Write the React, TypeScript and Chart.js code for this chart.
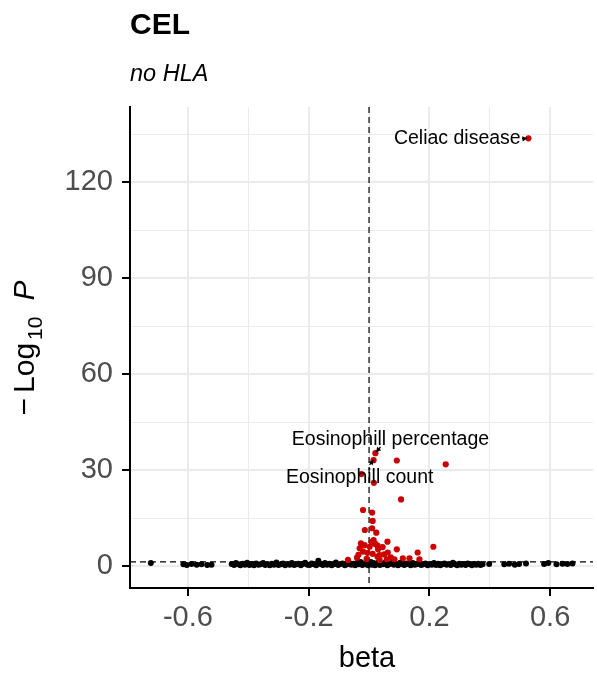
import React, { useEffect, useRef } from 'react';
import { Chart, registerables } from 'chart.js';

Chart.register(...registerables);

// ---------- text ----------
const titleText = 'CEL';
const subtitleText = 'no HLA';
const xAxisTitle = 'beta';

// ---------- axes ----------
const xMajorTicks = [-0.6, -0.2, 0.2, 0.6];
const xMinorTicks = [-0.4, 0, 0.4];
const yMajorTicks = [0, 30, 60, 90, 120];
const yMinorTicks = [15, 45, 75, 105, 135];
const xLimits = [-0.792, 0.742];
const yLimits = [-6.9, 143.6];
const betaReference = 0;
const pThreshold = 1.3;

// ---------- data: [beta, -log10 P] ----------
const significantPoints: [number, number][] = [
  [0.528, 133.8],
  [0.021, 35.3],
  [0.015, 33.1],
  [0.092, 33.0],
  [0.254, 31.8],
  [-0.025, 28.75],
  [0.016, 26.0],
  [0.106, 20.8],
  [-0.02, 17.5],
  [0.01, 16.7],
  [0.012, 14.1],
  [-0.014, 11.25],
  [0.01, 11.8],
  [0.024, 10.4],
  [-0.027, 7.1],
  [0.018, 7.1],
  [0.029, 6.25],
  [0.061, 7.6],
  [0.092, 5.2],
  [0.213, 6.0],
  [0.161, 4.2],
  [-0.031, 5.5],
  [-0.02, 4.5],
  [0.035, 3.4],
  [0.062, 4.2],
  [-0.04, 2.6],
  [0.002, 6.0],
  [0.015, 8.1],
  [-0.005, 4.1],
  [0.112, 2.4],
  [0.134, 2.4],
  [0.084, 2.1],
  [0.167, 2.1],
  [0.059, 2.1],
  [-0.07, 1.9],
  [0.035, 1.9],
  [-0.035, 3.5],
  [-0.015, 6.5],
  [0.008, 7.5],
  [0.022, 6.8],
  [0.03, 5.2],
  [-0.008, 2.2],
  [0.012, 3.8],
  [0.028, 2.9],
  [0.05, 3.6],
  [0.072, 2.7],
  [0.045, 5.9],
];

const otherPoints: [number, number][] = [
  [-0.723, 0.9], [-0.615, 0.5], [-0.604, 0.3], [-0.588, 0.6], [-0.571, 0.4],
  [-0.555, 0.5], [-0.536, 0.3], [-0.522, 0.4],
  [-0.455, 0.6], [-0.447, 0.3], [-0.441, 0.9], [-0.433, 0.5], [-0.426, 0.2],
  [-0.418, 0.7], [-0.411, 0.4], [-0.404, 1.0], [-0.396, 0.3], [-0.389, 0.6],
  [-0.381, 0.2], [-0.374, 0.8], [-0.366, 0.4], [-0.359, 0.5], [-0.351, 0.9],
  [-0.344, 0.3], [-0.337, 0.6], [-0.329, 0.2], [-0.322, 0.7], [-0.315, 0.4],
  [-0.307, 1.1], [-0.3, 0.3], [-0.292, 0.5], [-0.285, 0.8], [-0.278, 0.2],
  [-0.27, 0.6], [-0.263, 0.4], [-0.256, 0.9], [-0.248, 0.3], [-0.241, 0.5],
  [-0.234, 0.7], [-0.226, 0.2], [-0.219, 0.6], [-0.212, 1.0], [-0.204, 0.4],
  [-0.197, 0.3], [-0.19, 0.8], [-0.182, 0.5], [-0.175, 0.2], [-0.168, 1.6],
  [-0.161, 0.6], [-0.153, 0.3], [-0.146, 0.9], [-0.139, 0.4], [-0.131, 0.7],
  [-0.124, 0.2], [-0.117, 0.5], [-0.11, 1.1], [-0.102, 0.3], [-0.095, 0.6],
  [-0.088, 0.8], [-0.08, 0.2], [-0.073, 0.5], [-0.066, 1.0], [-0.059, 0.4],
  [-0.052, 0.7], [-0.046, 0.2], [-0.04, 0.9], [-0.034, 0.5], [-0.028, 1.2],
  [-0.022, 0.3], [-0.017, 0.8], [-0.012, 0.5], [-0.007, 1.1], [-0.003, 0.2],
  [0.002, 0.7], [0.006, 1.2], [0.01, 0.4], [0.015, 0.9], [0.02, 0.2],
  [0.025, 0.6], [0.03, 1.0], [0.036, 0.3], [0.042, 0.8], [0.048, 0.5],
  [0.054, 1.1], [0.061, 0.2], [0.068, 0.6], [0.075, 0.9], [0.082, 0.4],
  [0.089, 0.7], [0.096, 0.2], [0.103, 1.0], [0.11, 0.5], [0.117, 0.3],
  [0.124, 0.8], [0.131, 0.6], [0.138, 0.2], [0.145, 0.9], [0.152, 0.4],
  [0.159, 0.6], [0.166, 1.1], [0.173, 0.3], [0.18, 0.5], [0.187, 0.8],
  [0.194, 0.2], [0.201, 0.6], [0.208, 0.4], [0.215, 0.9], [0.222, 0.3],
  [0.229, 0.7], [0.236, 0.2], [0.243, 0.5], [0.25, 0.8], [0.257, 0.4],
  [0.264, 0.6], [0.271, 0.3], [0.278, 1.0], [0.285, 0.5], [0.292, 0.2],
  [0.299, 0.7], [0.306, 0.4], [0.313, 0.6], [0.32, 0.3], [0.327, 0.8],
  [0.334, 0.5], [0.341, 0.2], [0.348, 0.6], [0.355, 0.4], [0.362, 0.7],
  [0.369, 0.3], [0.376, 0.5],
  [0.398, 0.6], [0.448, 0.5], [0.464, 0.7], [0.483, 0.4], [0.497, 0.6],
  [0.52, 0.8], [0.58, 0.6], [0.594, 0.9], [0.621, 0.5], [0.641, 0.7],
  [0.657, 0.6], [0.674, 0.8],
];

// ---------- labelled traits ----------
const labelTexts = ['Celiac disease', 'Eosinophill percentage', 'Eosinophill count'];
// text anchor (data coords), alignment, arrow start -> arrow end (data coords)
const labelLayout = [
  { tx: 0.5025, ty: 133.6, align: 'right', base: 'middle', a0: [0.507, 133.6], a1: [0.524, 133.8] },
  { tx: 0.071, ty: 37.9, align: 'center', base: 'alphabetic', a0: [0.038, 37.2], a1: [0.023, 35.6] },
  { tx: -0.031, ty: 26.05, align: 'center', base: 'alphabetic', a0: [0.0017, 31.6], a1: [0.0155, 33.2] },
];

const FONT = '"Liberation Sans", Arial, Helvetica, sans-serif';

const near = (a: number, list: number[]) => list.some((t) => Math.abs(t - a) < 1e-9);

export default function App() {
  const canvasRef = useRef<HTMLCanvasElement | null>(null);

  useEffect(() => {
    const canvas = canvasRef.current;
    if (!canvas) return;

    const overlay = {
      id: 'overlay',
      beforeDatasetsDraw(chart: any) {
        const { ctx, chartArea, scales } = chart;
        const x0 = scales.x.getPixelForValue(betaReference);
        const yT = scales.y.getPixelForValue(pThreshold);
        ctx.save();
        ctx.strokeStyle = '#000';
        ctx.lineWidth = 1.2;
        ctx.setLineDash([6, 4]);
        ctx.beginPath();
        ctx.moveTo(x0, chartArea.top);
        ctx.lineTo(x0, chartArea.bottom);
        ctx.moveTo(chartArea.left, yT);
        ctx.lineTo(chartArea.right, yT);
        ctx.stroke();
        ctx.restore();
      },
      afterDatasetsDraw(chart: any) {
        const { ctx, chartArea, scales } = chart;
        const sx = scales.x;
        const sy = scales.y;
        ctx.save();
        // trait labels
        ctx.fillStyle = '#000';
        ctx.font = `19.5px ${FONT}`;
        labelLayout.forEach((l, i) => {
          ctx.textAlign = l.align;
          ctx.textBaseline = l.base;
          ctx.fillText(labelTexts[i], sx.getPixelForValue(l.tx), sy.getPixelForValue(l.ty));
          const ax0 = sx.getPixelForValue(l.a0[0]);
          const ay0 = sy.getPixelForValue(l.a0[1]);
          const ax1 = sx.getPixelForValue(l.a1[0]);
          const ay1 = sy.getPixelForValue(l.a1[1]);
          ctx.strokeStyle = '#000';
          ctx.lineWidth = 1.3;
          ctx.setLineDash([]);
          ctx.beginPath();
          ctx.moveTo(ax0, ay0);
          ctx.lineTo(ax1, ay1);
          ctx.stroke();
          const ang = Math.atan2(ay1 - ay0, ax1 - ax0);
          const len = 5.5;
          ctx.beginPath();
          ctx.moveTo(ax1, ay1);
          ctx.lineTo(ax1 - len * Math.cos(ang - 0.5), ay1 - len * Math.sin(ang - 0.5));
          ctx.lineTo(ax1 - len * Math.cos(ang + 0.5), ay1 - len * Math.sin(ang + 0.5));
          ctx.closePath();
          ctx.fill();
        });

        // title + subtitle
        ctx.textAlign = 'left';
        ctx.textBaseline = 'alphabetic';
        ctx.font = `bold 30px ${FONT}`;
        ctx.fillText(titleText, chartArea.left, 34);
        ctx.font = `italic 23.5px ${FONT}`;
        ctx.fillText(subtitleText, chartArea.left, 81);

        // x axis title
        ctx.textAlign = 'center';
        ctx.font = `29px ${FONT}`;
        ctx.fillText(xAxisTitle, 367, 667);

        // y axis title: −Log10 P
        const mainFont = `30px ${FONT}`;
        const subFont = `21px ${FONT}`;
        const italicFont = `italic 30px ${FONT}`;
        ctx.font = mainFont;
        const wMinus = ctx.measureText('\u2212').width;
        const wLog = ctx.measureText('Log').width;
        ctx.font = subFont;
        const w10 = ctx.measureText('10').width;
        ctx.font = italicFont;
        const wP = ctx.measureText('P').width;
        const gap1 = 5, gap2 = 3, gap3 = 16;
        const total = wMinus + gap1 + wLog + gap2 + w10 + gap3 + wP + 3;
        const centerY = 346.5;
        ctx.translate(33.5, centerY + total / 2);
        ctx.rotate(-Math.PI / 2);
        ctx.textAlign = 'left';
        let pos = 0;
        ctx.font = mainFont;
        ctx.fillText('\u2212', pos, 0);
        pos += wMinus + gap1;
        ctx.fillText('Log', pos, 0);
        pos += wLog + gap2;
        ctx.font = subFont;
        ctx.fillText('10', pos, 8);
        pos += w10 + gap3;
        ctx.font = italicFont;
        ctx.fillText('P', pos, 0);
        ctx.restore();
      },
    };

    const gridColor = '#ebebeb';

    const chart = new Chart(canvas, {
      type: 'scatter',
      data: {
        datasets: [
          {
            label: 'significant',
            data: significantPoints.map(([x, y]) => ({ x, y })),
            backgroundColor: '#cd0000',
            pointRadius: 3.1,
            pointBorderWidth: 0,
            borderWidth: 0,
            order: 1,
          },
          {
            label: 'not significant',
            data: otherPoints.map(([x, y]) => ({ x, y })),
            backgroundColor: '#000000',
            pointRadius: 3.0,
            pointBorderWidth: 0,
            borderWidth: 0,
            order: 2,
          },
        ],
      },
      options: {
        animation: false,
        responsive: false,
        devicePixelRatio: 1,
        layout: { padding: { top: 107, right: 3, left: 0, bottom: 0 } },
        plugins: {
          legend: { display: false },
          tooltip: { enabled: false },
          title: { display: false },
        },
        scales: {
          x: {
            type: 'linear',
            min: xLimits[0],
            max: xLimits[1],
            afterBuildTicks: (s: any) => {
              s.ticks = [...xMajorTicks, ...xMinorTicks].sort((a, b) => a - b).map((v) => ({ value: v }));
            },
            afterFit: (s: any) => {
              s.height = 89;
            },
            ticks: {
              autoSkip: false,
              maxRotation: 0,
              minRotation: 0,
              padding: 5,
              color: '#4d4d4d',
              font: { family: FONT, size: 29 },
              callback: (v: any) => (near(Number(v), xMajorTicks) ? Number(v).toFixed(1) : ''),
            },
            grid: {
              color: gridColor,
              lineWidth: (c: any) => (c.tick && near(c.tick.value, xMajorTicks) ? 2 : 1),
              tickColor: (c: any) => (c.tick && near(c.tick.value, xMajorTicks) ? '#000' : 'rgba(0,0,0,0)'),
              tickLength: 8,
              tickWidth: 2,
            },
            border: { display: true, color: '#000', width: 2 },
          },
          y: {
            type: 'linear',
            min: yLimits[0],
            max: yLimits[1],
            afterBuildTicks: (s: any) => {
              s.ticks = [...yMajorTicks, ...yMinorTicks].sort((a, b) => a - b).map((v) => ({ value: v }));
            },
            afterFit: (s: any) => {
              s.width = 130;
            },
            ticks: {
              autoSkip: false,
              padding: 9,
              color: '#4d4d4d',
              font: { family: FONT, size: 29 },
              callback: (v: any) => (near(Number(v), yMajorTicks) ? String(v) : ''),
            },
            grid: {
              color: gridColor,
              lineWidth: (c: any) => (c.tick && near(c.tick.value, yMajorTicks) ? 2 : 1),
              tickColor: (c: any) => (c.tick && near(c.tick.value, yMajorTicks) ? '#000' : 'rgba(0,0,0,0)'),
              tickLength: 8,
              tickWidth: 2,
            },
            border: { display: true, color: '#000', width: 2 },
          },
        },
      },
      plugins: [overlay],
    } as any);

    return () => chart.destroy();
  }, []);

  return (
    <div style={{ position: 'absolute', left: 0, top: 0, width: 597, height: 677, background: '#fff' }}>
      <canvas ref={canvasRef} width={597} height={677} style={{ display: 'block', width: 597, height: 677 }} />
    </div>
  );
}
